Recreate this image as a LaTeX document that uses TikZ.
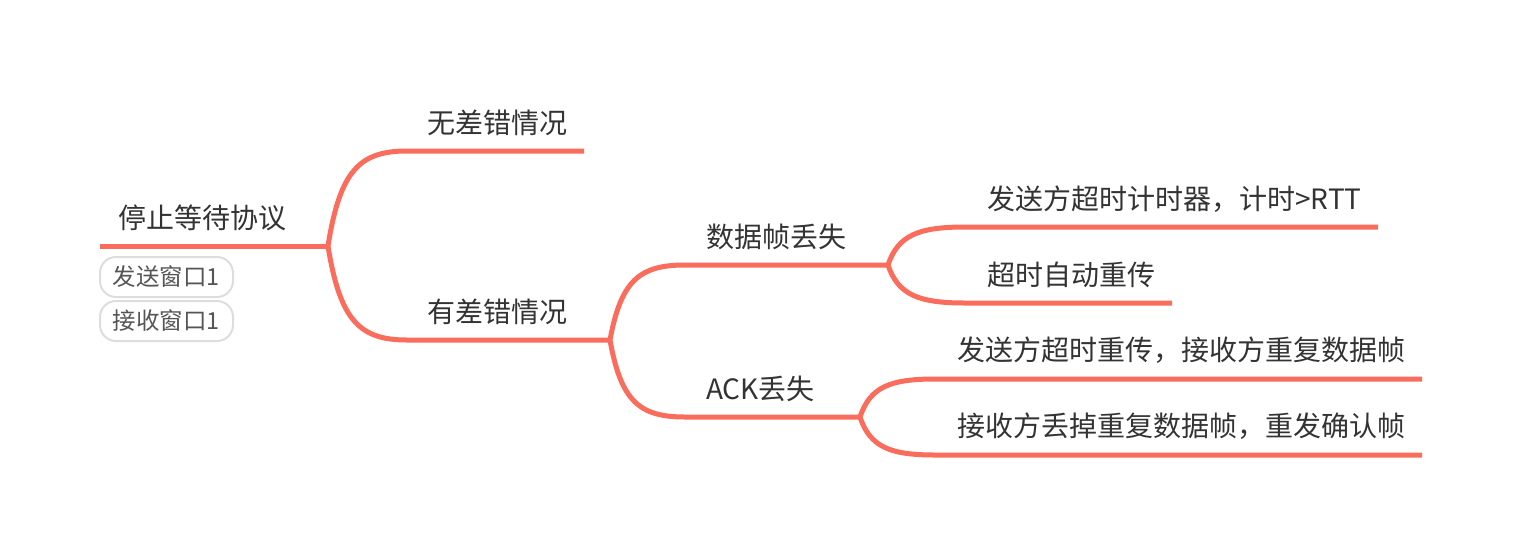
\documentclass[tikz,border=0pt]{standalone}
\usepackage{fontspec}
\newfontfamily\cjk{Noto Sans CJK SC}
\definecolor{branch}{RGB}{250,108,91}
\definecolor{txt}{RGB}{51,51,51}
\definecolor{pillline}{RGB}{221,221,221}
\definecolor{pilltxt}{RGB}{85,85,85}
\begin{document}
\begin{tikzpicture}[x=1pt,y=-1pt,
  topic/.style={anchor=base west, inner sep=0pt, font=\cjk\fontsize{28}{28}\selectfont, text=txt},
  link/.style={draw=branch, line width=5pt, line cap=butt, line join=round},
  pill/.style={draw=pillline, line width=2pt, rounded corners=16pt, minimum width=133pt, minimum height=40pt, inner sep=0pt, font=\cjk\fontsize{23.5}{23.5}\selectfont, text=pilltxt}]
\useasboundingbox (0,0) rectangle (1522,558);

% line coordinates
\coordinate (Rs) at (100,246);  \coordinate (J0) at (328,246);
\coordinate (As) at (407,151);  \coordinate (Ae) at (584,151);
\coordinate (Bs) at (407,340);  \coordinate (J1) at (610,340);
\coordinate (Cs) at (685,265);  \coordinate (J2) at (888,265);
\coordinate (Ds) at (685,417);  \coordinate (J3) at (860,417);
\coordinate (Es) at (965,227);  \coordinate (Ee) at (1378,227);
\coordinate (Fs) at (965,303);  \coordinate (Fe) at (1172,303);
\coordinate (Gs) at (935,379);  \coordinate (Ge) at (1422,379);
\coordinate (Hs) at (935,455);  \coordinate (He) at (1422,455);

% texts
\node[topic] (root) at (118,228) {停止等待协议};
\node[topic] (nA) at (427,133) {无差错情况};
\node[topic] (nB) at (427,322) {有差错情况};
\node[topic] (nC) at (706,247) {数据帧丢失};
\node[topic] (nD) at (706,399) {ACK丢失};
\node[topic] (nE) at (987,209) {发送方超时计时器，计时>RTT};
\node[topic] (nF) at (987,285) {超时自动重传};
\node[topic] (nG) at (957,360) {发送方超时重传，接收方重复数据帧};
\node[topic] (nH) at (957,436) {接收方丢掉重复数据帧，重发确认帧};

% labels of root
\node[pill] (p1) at (166.5,277) {发送窗口1};
\node[pill] (p2) at (166.5,321) {接收窗口1};

% connectors
\draw[link] (Rs) -- (J0);
\draw[link] (J0) .. controls +(12,-76) and +(-47,0) .. (As) -- (Ae);
\draw[link] (J0) .. controls +(12,75) and +(-47,0) .. (Bs) -- (J1);
\draw[link] (J1) .. controls +(11,-60) and +(-45,0) .. (Cs) -- (J2);
\draw[link] (J1) .. controls +(11,62) and +(-45,0) .. (Ds) -- (J3);
\draw[link] (J2) .. controls +(10,-30) and +(-46,0) .. (Es) -- (Ee);
\draw[link] (J2) .. controls +(10,30) and +(-46,0) .. (Fs) -- (Fe);
\draw[link] (J3) .. controls +(10,-30) and +(-45,0) .. (Gs) -- (Ge);
\draw[link] (J3) .. controls +(10,30) and +(-45,0) .. (Hs) -- (He);
\end{tikzpicture}
\end{document}
